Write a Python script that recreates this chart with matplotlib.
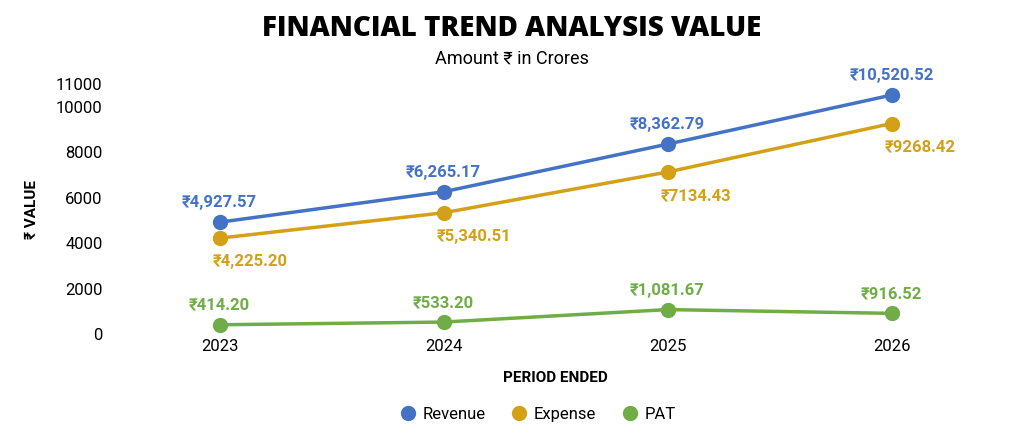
import matplotlib
matplotlib.use("Agg")
import matplotlib.pyplot as plt

years = ["2023", "2024", "2025", "2026"]
revenue = [4927.57, 6265.17, 8362.79, 10520.52]
expense = [4225.20, 5340.51, 7134.43, 9268.42]
pat = [414.20, 533.20, 1081.67, 916.52]
rev_lbl = ["₹4,927.57", "₹6,265.17", "₹8,362.79", "₹10,520.52"]
exp_lbl = ["₹4,225.20", "₹5,340.51", "₹7134.43", "₹9268.42"]
pat_lbl = ["₹414.20", "₹533.20", "₹1,081.67", "₹916.52"]
yticks = [0, 2000, 4000, 6000, 8000, 10000, 11000]

plt.rcParams['font.family'] = ['Roboto', 'DejaVu Sans']
fig = plt.figure(figsize=(10.24, 4.34), dpi=100)
ax = fig.add_axes([0.105, 0.23, 0.875, 0.576])
x = list(range(len(years)))
cols = {"Revenue": "#4472C4", "Expense": "#D4A017", "PAT": "#70AD47"}
for name, vals, lbls, dx, dy, ha in [("Revenue", revenue, rev_lbl, 0, 14, 'center'),
                                     ("Expense", expense, exp_lbl, -5, -17, 'left'),
                                     ("PAT", pat, pat_lbl, 0, 14, 'center')]:
    c = cols[name]
    ax.plot(x, vals, color=c, lw=2.5, marker='o', ms=10, label=name)
    for xi, v, l in zip(x, vals, lbls):
        ax.annotate(l, (xi, v), xytext=(dx, dy), textcoords='offset points',
                    ha=ha, va='center', color=c, fontsize=12, fontweight='bold')
ax.set_xlim(-0.5, 3.5)
ax.set_ylim(0, 11000)
ax.set_yticks(yticks)
ax.set_yticklabels([str(t) for t in yticks], fontsize=12)
ax.set_xticks(x)
ax.set_xticklabels(years, fontsize=12)
ax.tick_params(length=0)
for s in ax.spines.values():
    s.set_visible(False)
ax.set_xlabel("PERIOD ENDED", fontsize=11, fontweight='bold', labelpad=12)
ax.set_ylabel("₹ VALUE", fontsize=11, fontweight='bold', labelpad=12)
fig.text(0.5, 0.935, "FINANCIAL TREND ANALYSIS VALUE", ha='center', va='center',
         fontsize=20, fontweight='heavy', family=['Open Sans', 'DejaVu Sans'])
fig.text(0.5, 0.865, "Amount ₹ in Crores", ha='center', va='center', fontsize=13)
ax.legend(loc='upper center', bbox_to_anchor=(0.48, -0.23), ncol=3, frameon=False,
          fontsize=12, handlelength=1, handletextpad=0.4, columnspacing=1.5)
for l in ax.get_legend().get_lines():
    l.set_linestyle('none')
fig.savefig("out.png", dpi=100)
